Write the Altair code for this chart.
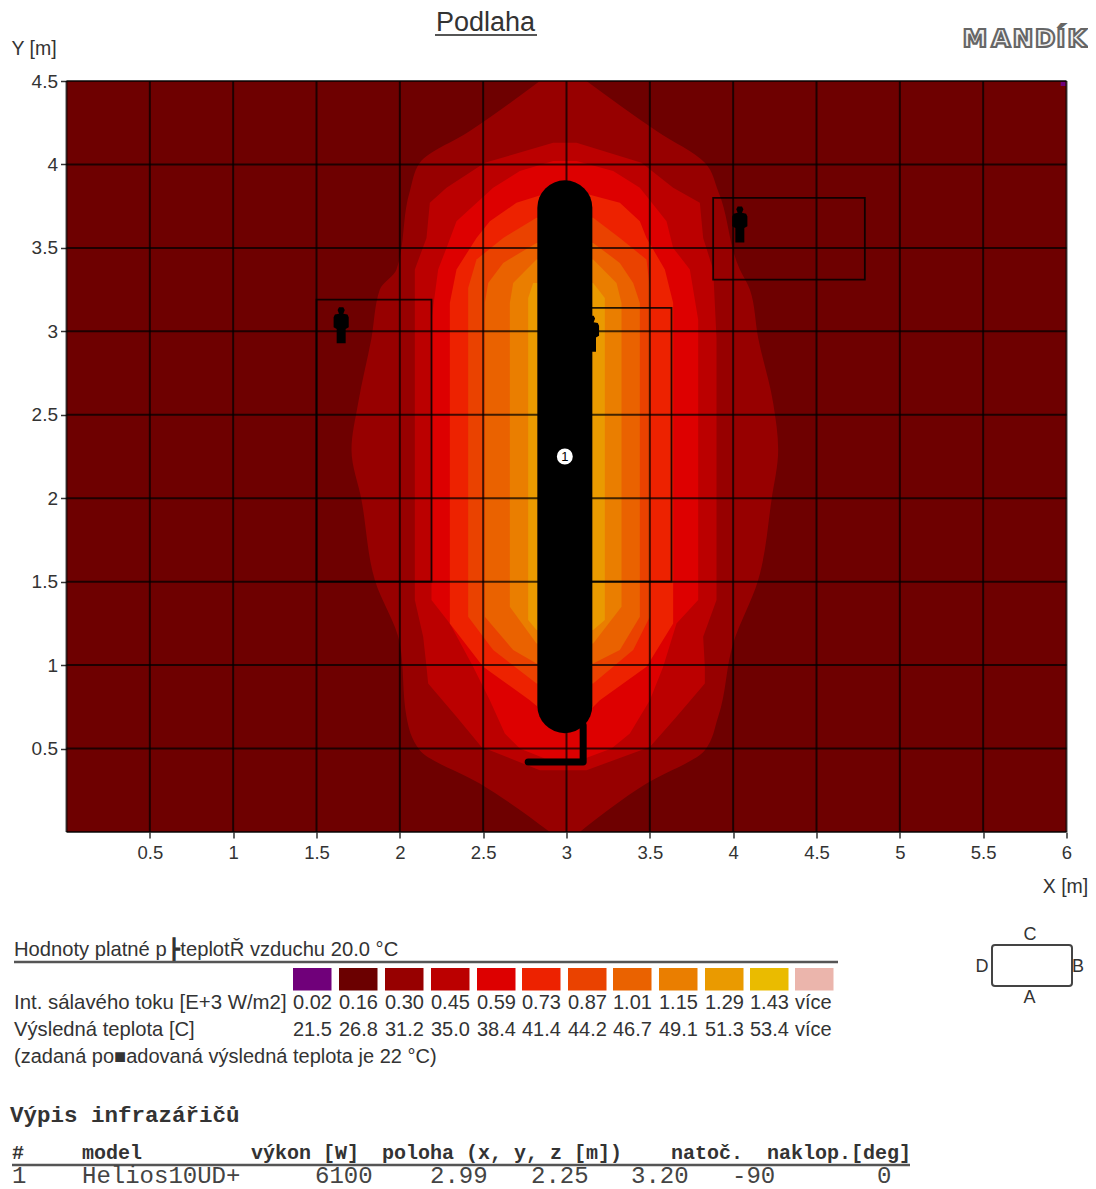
import altair as alt
import pandas as pd

# --- geometry of the page (annotations only)
OX, OY = 66.5, 81.0
SANS, MONO = "Liberation Sans", "Liberation Mono"
INK = "#333333"

# --- axes
X_TICKS = [0.5, 1, 1.5, 2, 2.5, 3, 3.5, 4, 4.5, 5, 5.5, 6]
Y_TICKS = [0.5, 1, 1.5, 2, 2.5, 3, 3.5, 4, 4.5]
GRID_X = [0, 0.5, 1, 1.5, 2, 2.5, 3, 3.5, 4, 4.5, 5, 5.5, 6]
GRID_Y = [0, 0.5, 1, 1.5, 2, 2.5, 3, 3.5, 4, 4.5]

# --- radiant-flux contour bands, outermost to innermost (y, left x, right x in metres)
L1_Y = [4.50, 4.20, 4.01, 3.84, 3.37, 3.25, 2.96, 2.57, 2.29, 1.99, 1.51, 1.13, 0.69, 0.49, 0.29, 0.00]
L1_A = [2.84, 2.42, 2.12, 2.06, 1.98, 1.88, 1.83, 1.75, 1.71, 1.77, 1.85, 2.00, 2.04, 2.12, 2.48, 2.90]
L1_B = [3.12, 3.54, 3.83, 3.91, 4.04, 4.10, 4.15, 4.24, 4.27, 4.23, 4.15, 4.00, 3.91, 3.83, 3.48, 3.08]
L2_Y = [4.13, 4.01, 3.86, 3.77, 3.56, 3.37, 2.96, 1.39, 1.17, 0.99, 0.89, 0.69, 0.51, 0.37]
L2_A = [2.92, 2.51, 2.28, 2.18, 2.16, 2.09, 2.09, 2.09, 2.14, 2.16, 2.17, 2.34, 2.49, 2.84]
L2_B = [3.06, 3.45, 3.64, 3.80, 3.82, 3.88, 3.90, 3.90, 3.82, 3.83, 3.83, 3.66, 3.50, 3.12]
L3_Y = [4.02, 3.96, 3.86, 3.66, 3.50, 3.37, 3.07, 1.39, 1.25, 0.99, 0.79, 0.59, 0.50, 0.44]
L3_A = [2.92, 2.72, 2.56, 2.34, 2.28, 2.23, 2.19, 2.19, 2.30, 2.44, 2.54, 2.63, 2.72, 2.87]
L3_B = [3.06, 3.28, 3.44, 3.60, 3.64, 3.74, 3.79, 3.79, 3.66, 3.58, 3.50, 3.38, 3.27, 3.11]
L4_Y = [3.84, 3.77, 3.66, 3.56, 3.37, 3.17, 1.25, 0.99, 0.79, 0.64]
L4_A = [2.92, 2.70, 2.54, 2.46, 2.34, 2.30, 2.30, 2.50, 2.78, 2.96]
L4_B = [3.06, 3.32, 3.44, 3.48, 3.59, 3.64, 3.64, 3.48, 3.20, 3.05]
L5_Y = [3.68, 3.56, 3.43, 3.26, 1.29, 1.09, 0.89]
L5_A = [2.82, 2.62, 2.46, 2.41, 2.41, 2.56, 2.82]
L5_B = [3.16, 3.32, 3.48, 3.50, 3.50, 3.40, 3.16]
L6_Y = [3.53, 3.41, 3.29, 3.17, 1.29, 1.09, 1.01]
L6_A = [2.82, 2.62, 2.53, 2.51, 2.51, 2.68, 2.82]
L6_B = [3.16, 3.32, 3.40, 3.44, 3.44, 3.32, 3.16]
L7_Y = [3.43, 3.29, 3.17, 1.35, 1.13]
L7_A = [2.82, 2.68, 2.66, 2.66, 2.82]
L7_B = [3.16, 3.30, 3.33, 3.33, 3.16]
L8_Y = [3.29, 3.20, 1.27, 1.21]
L8_A = [2.80, 2.77, 2.77, 2.82]
L8_B = [3.16, 3.23, 3.23, 3.16]
BANDS = [
    (L1_Y, L1_A, L1_B, "#970000", "monotone"), (L2_Y, L2_A, L2_B, "#bb0000", "linear"),
    (L3_Y, L3_A, L3_B, "#dd0000", "linear"), (L4_Y, L4_A, L4_B, "#ed2200", "linear"),
    (L5_Y, L5_A, L5_B, "#ea4200", "linear"), (L6_Y, L6_A, L6_B, "#ea6200", "linear"),
    (L7_Y, L7_A, L7_B, "#ea7e00", "linear"), (L8_Y, L8_A, L8_B, "#ea9a00", "linear"),
]
BASE_COLOR = "#6e0000"

# --- scene objects (metres)
ZONE_X = [1.50, 3.00, 3.88]
ZONE_X2 = [2.19, 3.63, 4.79]
ZONE_Y = [1.50, 1.50, 3.31]
ZONE_Y2 = [3.19, 3.14, 3.80]
PERSON_X = [1.648, 3.15, 4.04]
PERSON_Y = [3.036, 2.985, 3.64]
HEATER_X = [2.99]
HEATER_Y = [0.757]
HEATER_Y2 = [3.74]
PIPE_X = [3.10, 3.10, 2.77]
PIPE_Y = [0.64, 0.42, 0.42]

# --- legend and table text
LEGEND_COLORS = ["#70007a", "#6b0000", "#970000", "#bb0000", "#dd0000", "#ed2200",
                 "#ea4200", "#ea6200", "#ea7e00", "#ea9a00", "#eabb00", "#ebb5ac"]
FLUX_LABELS = ["0.02", "0.16", "0.30", "0.45", "0.59", "0.73", "0.87", "1.01", "1.15", "1.29", "1.43", "více"]
TEMP_LABELS = ["21.5", "26.8", "31.2", "35.0", "38.4", "41.4", "44.2", "46.7", "49.1", "51.3", "53.4", "více"]
LEGEND_LEFT = [293, 339, 385, 431, 477, 522, 568, 613, 659, 705, 750, 795]
HEADERS = ["#", "model", "výkon [W]", "poloha (x, y, z [m])", "natoč.", "naklop.[deg]"]
HEADER_LEFT = [12, 82, 251, 382, 671, 767]
ROW = ["1", "Helios10UD+", "6100", "2.99", "2.25", "3.20", "-90", "0"]
ROW_LEFT = [12, 82, 315, 430, 531, 631, 732, 877]
LOGO = ["M", "A", "N", "D", "Í", "K"]
LOGO_CENTER = [975, 1001, 1023, 1045, 1061, 1077]

SX = alt.Scale(domain=[0, 6], nice=False, zero=False)
SY = alt.Scale(domain=[0, 4.5], nice=False, zero=False)
ONE = pd.DataFrame({"a": [0]})

AX = alt.Axis(
    title="X [m]", values=X_TICKS, format="~g", grid=False, domain=False, tickSize=6, tickColor=INK, tickWidth=1.5,
    labelFontSize=18.5, labelFont=SANS, labelColor=INK, labelPadding=5, labelFlush=False,
    titleFont=SANS, titleFontSize=19.5, titleFontWeight="normal", titleColor=INK,
    titleX=998.5, titleY=60, titleAlign="center", titleBaseline="alphabetic")
AY = alt.Axis(
    title="Y [m]", values=Y_TICKS, format="~g", grid=False, domain=False, tickSize=6, tickColor=INK, tickWidth=1.5,
    labelFontSize=19, labelFont=SANS, labelColor=INK, labelPadding=3, labelFlush=False,
    titleFont=SANS, titleFontSize=19.5, titleFontWeight="normal", titleColor=INK, titleAngle=0,
    titleX=-33, titleY=-27, titleAlign="center", titleBaseline="alphabetic")


def xq(f):
    return alt.X(f, type="quantitative", scale=SX, axis=AX)


def yq(f):
    return alt.Y(f, type="quantitative", scale=SY, axis=AY)


def text(s, px, py, size=20, font=SANS, weight="normal", color=INK, align="left"):
    return alt.Chart(ONE).mark_text(
        text=s, fontSize=size, font=font, fontWeight=weight, color=color,
        align=align, baseline="alphabetic",
    ).encode(x=alt.value(px - OX), y=alt.value(py - OY))


def hline(x0, x1, py, width=2, color="#555555"):
    return alt.Chart(ONE).mark_rule(color=color, strokeWidth=width).encode(
        x=alt.value(x0 - OX), x2=alt.value(x1 - OX), y=alt.value(py - OY))


layers = []

# background
layers.append(alt.Chart(pd.DataFrame({"x": [0], "x2": [6], "y": [0], "y2": [4.5]})).mark_rect(color=BASE_COLOR).encode(
    x=xq("x"), x2="x2:Q", y=yq("y"), y2="y2:Q"))

# contour bands
for ys, xa, xb, col, interp in BANDS:
    d = pd.DataFrame({"y": ys, "xa": xa, "xb": xb})
    layers.append(alt.Chart(d).mark_area(orient="horizontal", color=col, opacity=1, interpolate=interp).encode(
        y=yq("y"), x=xq("xa"), x2="xb:Q"))

# purple corner cell
layers.append(alt.Chart(pd.DataFrame({"x": [5.965], "x2": [5.995], "y": [4.47], "y2": [4.495]}))
              .mark_rect(color="#70007a").encode(x=xq("x"), x2="x2:Q", y=yq("y"), y2="y2:Q"))

# grid
layers.append(alt.Chart(pd.DataFrame({"x": GRID_X})).mark_rule(color="black", strokeWidth=2, opacity=0.72).encode(x=xq("x")))
layers.append(alt.Chart(pd.DataFrame({"y": GRID_Y})).mark_rule(color="black", strokeWidth=2, opacity=0.72).encode(y=yq("y")))

# measuring zones
layers.append(alt.Chart(pd.DataFrame({"x": ZONE_X, "x2": ZONE_X2, "y": ZONE_Y, "y2": ZONE_Y2}))
              .mark_rect(fillOpacity=0, stroke="black", strokeWidth=1.8, strokeOpacity=0.85)
              .encode(x=xq("x"), x2="x2:Q", y=yq("y"), y2="y2:Q"))

# people
PERSON = ("M-0.12,-1 L0.12,-1 L0.2,-0.85 L0.12,-0.65 L0.35,-0.6 L0.42,-0.45 L0.42,0.1 L0.25,0.2 L0.25,1 "
          "L-0.25,1 L-0.25,0.2 L-0.42,0.1 L-0.42,-0.45 L-0.35,-0.6 L-0.12,-0.65 L-0.2,-0.85 Z")
layers.append(alt.Chart(pd.DataFrame({"x": PERSON_X, "y": PERSON_Y}))
              .mark_point(shape=PERSON, filled=True, color="black", opacity=1, size=1296)
              .encode(x=xq("x"), y=yq("y")))

# pipe and heater
layers.append(alt.Chart(pd.DataFrame({"x": PIPE_X, "y": PIPE_Y, "o": [0, 1, 2]}))
              .mark_line(color="black", strokeWidth=7, strokeCap="round", strokeJoin="round")
              .encode(x=xq("x"), y=yq("y"), order=alt.Order("o:Q")))
layers.append(alt.Chart(pd.DataFrame({"x": HEATER_X, "y": HEATER_Y, "y2": HEATER_Y2}))
              .mark_rule(color="black", size=55, strokeCap="round")
              .encode(x=xq("x"), y=yq("y"), y2="y2:Q"))
layers.append(alt.Chart(pd.DataFrame({"x": HEATER_X, "y": [2.25]}))
              .mark_point(filled=True, color="white", opacity=1, size=254)
              .encode(x=xq("x"), y=yq("y")))
layers.append(alt.Chart(pd.DataFrame({"x": HEATER_X, "y": [2.25], "t": ["1"]}))
              .mark_text(color="black", fontSize=13, font=SANS, baseline="middle")
              .encode(x=xq("x"), y=yq("y"), text="t:N"))

# title and logo
layers.append(text("Podlaha", 485.5, 31, size=27, align="center"))
layers.append(hline(435, 537, 35, width=2, color="#555555"))
for ch, cx in zip(LOGO, LOGO_CENTER):
    layers.append(alt.Chart(ONE).mark_text(
        text=ch, font="DejaVu Sans", fontWeight="bold", fontSize=25, fill="#f2f2f2", stroke="#666666",
        strokeWidth=2.2, align="center", baseline="alphabetic").encode(x=alt.value(cx - OX), y=alt.value(47 - OY)))

# legend
layers.append(text("Hodnoty platné p\u200a┣teplotŘ vzduchu 20.0 °C", 14, 956, size=20.2))
layers.append(hline(14, 838, 962, width=2.5))
for c, x0, f, t in zip(LEGEND_COLORS, LEGEND_LEFT, FLUX_LABELS, TEMP_LABELS):
    layers.append(alt.Chart(ONE).mark_rect(color=c).encode(
        x=alt.value(x0 - OX), x2=alt.value(x0 + 38.5 - OX), y=alt.value(968 - OY), y2=alt.value(990.5 - OY)))
    layers.append(text(f, x0, 1009))
    layers.append(text(t, x0, 1036))
layers.append(text("Int. sálavého toku [E+3 W/m2]", 14, 1009, size=20.4))
layers.append(text("Výsledná teplota [C]", 14, 1036, size=20.2))
layers.append(text("(zadaná po■adovaná výsledná teplota je 22 °C)", 14, 1063))

# orientation key
layers.append(alt.Chart(ONE).mark_rect(fillOpacity=0, stroke="#444444", strokeWidth=2, cornerRadius=3).encode(
    x=alt.value(992 - OX), x2=alt.value(1072 - OX), y=alt.value(945 - OY), y2=alt.value(986 - OY)))
for s, px, py in [("C", 1030, 940), ("A", 1029.5, 1003), ("D", 982, 972), ("B", 1078, 972)]:
    layers.append(text(s, px, py, size=18, align="center"))

# table
layers.append(text("Výpis infrazářičů", 10, 1122, size=22.5, font=MONO, weight="bold"))
for h, px in zip(HEADERS, HEADER_LEFT):
    layers.append(text(h, px, 1159, size=20, font=MONO, weight="bold"))
layers.append(hline(12, 910, 1165, width=2.5))
for v, px in zip(ROW, ROW_LEFT):
    layers.append(text(v, px, 1183, size=24, font=MONO, color="#444444"))

chart = alt.layer(*layers).properties(
    width=1000, height=751,
    padding={"left": 58.5, "top": 73, "right": 21, "bottom": 357},
    autosize=alt.AutoSizeParams(type="none"),
).configure_view(stroke=None)

chart.save("out.html", embed_options={"renderer": "svg", "actions": False})
